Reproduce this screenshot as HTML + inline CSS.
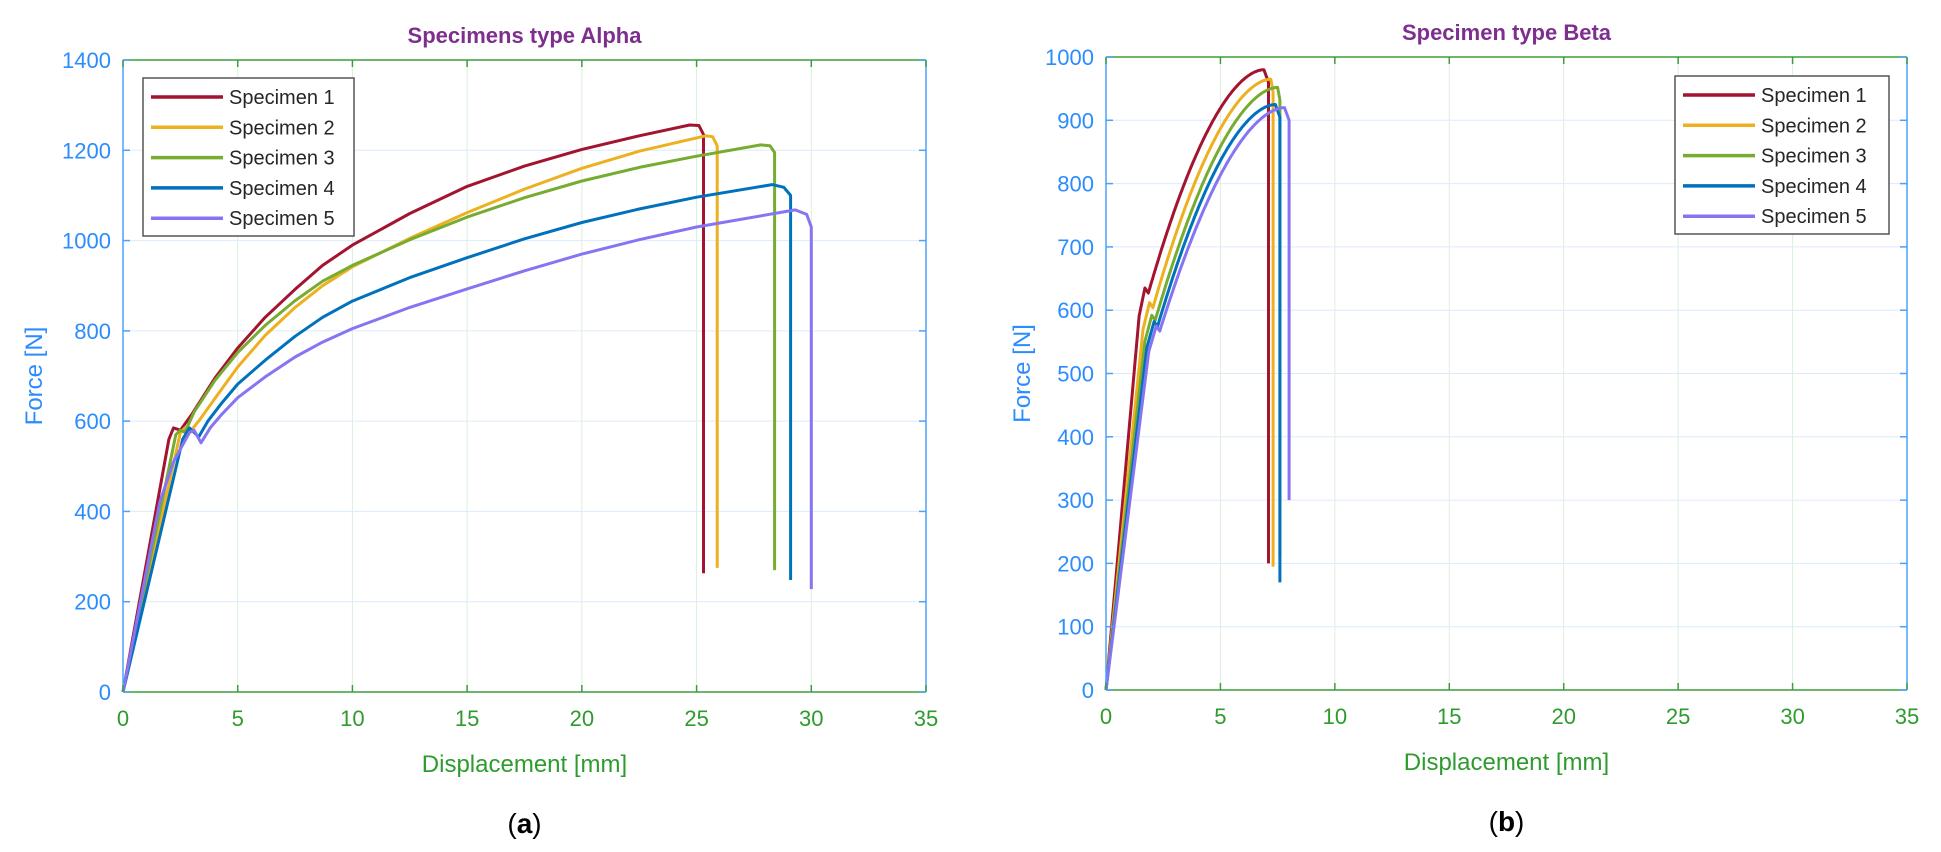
<!DOCTYPE html>
<html><head><meta charset="utf-8"><style>
html,body{margin:0;padding:0;background:#fff;}
svg{display:block;}
text{font-family:"Liberation Sans",Arial,sans-serif;}
</style></head><body>
<svg id="s" width="1941" height="852" xmlns="http://www.w3.org/2000/svg"></svg>
<script>
const S=document.getElementById('s');
let h='';
const C=['#A2142F','#EDB120','#77AC30','#0072BD','#8575F2'];
function plot(o){
 const {L,R,T,B,xmax,ymax,ystep}=o;
 const X=x=>L+(R-L)*x/xmax, Y=y=>B-(B-T)*y/ymax;
 for(let x=5;x<xmax;x+=5) h+=`<line x1="${X(x)}" y1="${T}" x2="${X(x)}" y2="${B}" stroke="#dcefdc" stroke-width="1"/>`;
 for(let y=ystep;y<ymax;y+=ystep) h+=`<line x1="${L}" y1="${Y(y)}" x2="${R}" y2="${Y(y)}" stroke="#dcebfc" stroke-width="1"/>`;
 o.series.forEach((pts,i)=>{
  h+=`<polyline points="${pts.map(p=>X(p[0]).toFixed(1)+','+Y(p[1]).toFixed(1)).join(' ')}" fill="none" stroke="${C[i]}" stroke-width="3" stroke-linejoin="round"/>`;
 });
 h+=`<line x1="${L}" y1="${B}" x2="${R}" y2="${B}" stroke="#3a9e3a" stroke-width="1.5"/>`;
 h+=`<line x1="${L}" y1="${T}" x2="${R}" y2="${T}" stroke="#3a9e3a" stroke-width="1.5"/>`;
 h+=`<line x1="${L}" y1="${T}" x2="${L}" y2="${B}" stroke="#4aa0ff" stroke-width="1.5"/>`;
 h+=`<line x1="${R}" y1="${T}" x2="${R}" y2="${B}" stroke="#4aa0ff" stroke-width="1.5"/>`;
 for(let x=0;x<=xmax;x+=5){
  h+=`<line x1="${X(x)}" y1="${B}" x2="${X(x)}" y2="${B-7}" stroke="#3a9e3a" stroke-width="1.5"/><line x1="${X(x)}" y1="${T}" x2="${X(x)}" y2="${T+7}" stroke="#3a9e3a" stroke-width="1.5"/>`;
  h+=`<text x="${X(x)}" y="${B+34}" font-size="22" fill="#2e9b2e" text-anchor="middle">${x}</text>`;
 }
 for(let y=0;y<=ymax;y+=ystep){
  h+=`<line x1="${L}" y1="${Y(y)}" x2="${L+7}" y2="${Y(y)}" stroke="#4aa0ff" stroke-width="1.5"/><line x1="${R}" y1="${Y(y)}" x2="${R-7}" y2="${Y(y)}" stroke="#4aa0ff" stroke-width="1.5"/>`;
  h+=`<text x="${L-12}" y="${Y(y)+8}" font-size="22" fill="#2b8cff" text-anchor="end">${y}</text>`;
 }
 h+=`<text x="${(L+R)/2}" y="${T-17}" font-size="22" font-weight="bold" fill="#7E2F8E" text-anchor="middle">${o.title}</text>`;
 h+=`<text x="${(L+R)/2}" y="${B+80}" font-size="24" fill="#2e9b2e" text-anchor="middle">Displacement [mm]</text>`;
 h+=`<text transform="translate(${o.fx},${(T+B)/2}) rotate(-90)" font-size="24" fill="#2b8cff" text-anchor="middle">Force [N]</text>`;
 h+=`<text x="${(L+R)/2}" y="${B+141}" font-size="28" font-family="Liberation Serif,serif" fill="#000" text-anchor="middle">(<tspan font-weight="bold">${o.cap}</tspan>)</text>`;
 const lx=o.lx,ly=o.ly;
 h+=`<rect x="${lx}" y="${ly}" width="${o.lw}" height="158" fill="#fff" stroke="#555" stroke-width="1.5"/>`;
 for(let i=0;i<5;i++){
  const yy=ly+19+i*30.3;
  h+=`<line x1="${lx+8}" y1="${yy}" x2="${lx+80}" y2="${yy}" stroke="${C[i]}" stroke-width="3.5"/>`;
  h+=`<text x="${lx+86}" y="${yy+7}" font-size="20" fill="#262626">Specimen ${i+1}</text>`;
 }
}
function curve(xy,yy,xp,yp,p,mode,dip){
 const pts=[[0,0],[xy*0.85,yy*0.93],[xy,yy]];
 if(dip){pts.push([dip[0],dip[1]]);}
 const x0=dip?dip[0]:xy, y0=dip?dip[1]:yy;
 for(let k=1;k<=80;k++){
  const f=k/80, x=x0+(xp-x0)*f;
  const g=mode?1-Math.pow(1-f,p):Math.pow(f,p);
  pts.push([x,y0+(yp-y0)*g]);
 }
 return pts;
}
plot({L:123,R:926,T:60,B:692,xmax:35,ymax:1400,ystep:200,title:'Specimens type Alpha',cap:'a',fx:42,lx:143,ly:78,lw:211,
 series:[
  [[0,0],[2.0,560],[2.2,585],[2.5,580],[3,615],[4,695],[5,762],[6.2,830],[7.5,892],[8.7,945],[10,990],[12.5,1060],[15,1120],[17.5,1165],[20,1202],[22.5,1232],[24.7,1256],[25.1,1255],[25.3,1235],[25.3,263]],
  [[0,0],[2.5,575],[2.7,585],[2.9,575],[3.3,600],[4,650],[5,720],[6.2,790],[7.5,852],[8.7,900],[10,942],[12.5,1005],[15,1062],[17.5,1114],[20,1160],[22.5,1198],[25.4,1232],[25.7,1230],[25.9,1210],[25.9,275]],
  [[0,0],[2.3,570],[2.5,580],[2.7,575],[3.1,620],[4,690],[5,752],[6.2,812],[7.5,867],[8.7,910],[10,945],[12.5,1002],[15,1052],[17.5,1095],[20,1132],[22.5,1162],[25,1187],[27.8,1212],[28.2,1210],[28.4,1195],[28.4,270]],
  [[0,0],[2.6,560],[2.9,585],[3.3,565],[3.7,600],[4.3,640],[5,682],[6.2,735],[7.5,788],[8.7,830],[10,866],[12.5,918],[15,962],[17.5,1004],[20,1040],[22.5,1070],[25,1096],[28.3,1124],[28.8,1118],[29.1,1100],[29.1,248]],
  [[0,0],[1.6,420],[2.2,510],[2.9,575],[3.1,580],[3.4,552],[3.8,585],[4.3,615],[5,652],[6.2,698],[7.5,742],[8.7,775],[10,805],[12.5,852],[15,893],[17.5,933],[20,970],[22.5,1002],[25,1030],[29.3,1068],[29.8,1058],[30.0,1030],[30.0,228]]
 ]});
function right(xy,yy,xp,yp,xd,yb){
 const c=curve(xy,yy,xp,yp,1.8,1,[xy+0.15,yy-8]);
 c.push([xd,yp-20],[xd,yb]);return c;
}
plot({L:1106,R:1907,T:57,B:690,xmax:35,ymax:1000,ystep:100,title:'Specimen type Beta',cap:'b',fx:1030,lx:1675,ly:76,lw:214,
 series:[
  right(1.7,635,6.9,980,7.1,200),
  right(1.9,612,7.2,965,7.3,195),
  right(2.0,592,7.5,952,7.6,210),
  right(2.1,582,7.4,925,7.6,170),
  right(2.2,575,7.8,920,8.0,300)
 ]});
S.innerHTML=h;
</script>
</body></html>
